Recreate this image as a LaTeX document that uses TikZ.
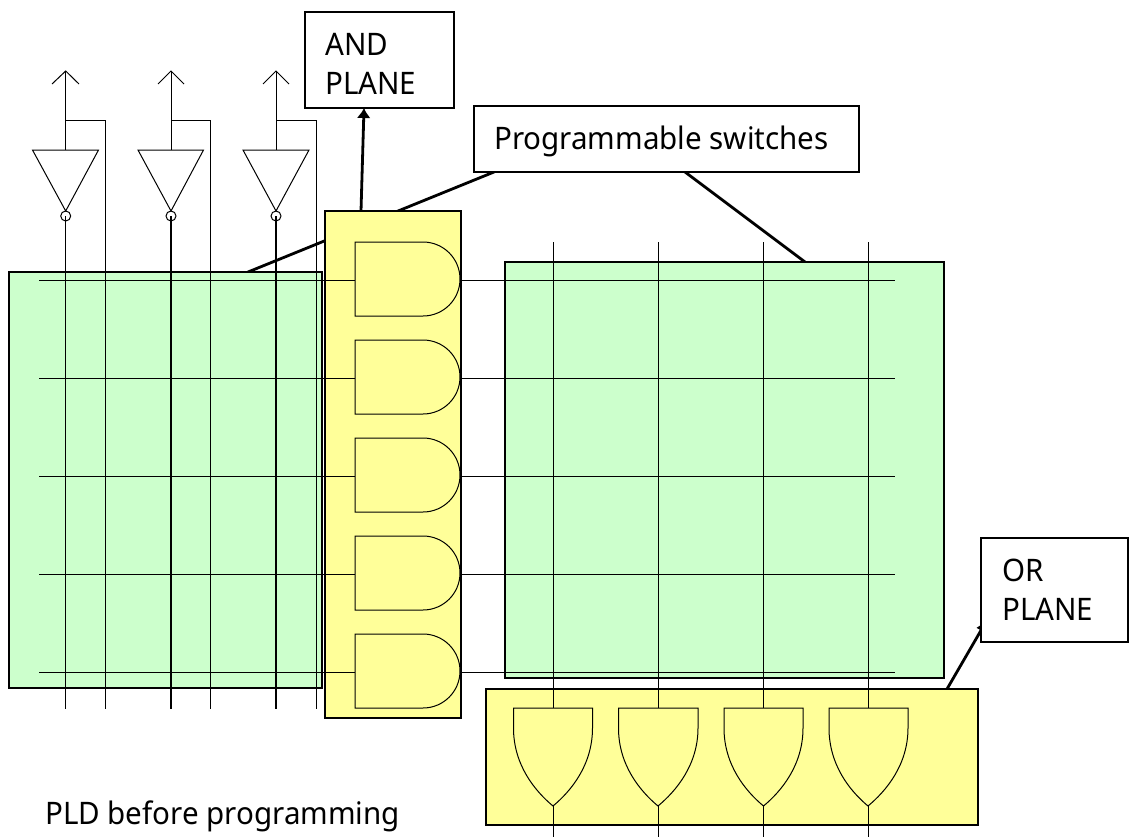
\documentclass[tikz,border=0pt]{standalone}
\usepackage{fontspec}
\usetikzlibrary{arrows.meta}
\setmainfont[FakeStretch=0.953]{Noto Sans}
\tikzset{
  wire/.style={draw=black,line width=1pt},
  panel/.style={draw=black,line width=2.2pt,fill=#1},
  gate/.style={draw=black,line width=1pt,fill=#1},
  callout/.style={draw=black,line width=2.8pt},
  label/.style={anchor=base west,inner sep=0pt,align=left,font=\fontsize{31}{39}\selectfont}
}
\definecolor{planegreen}{HTML}{CCFFCC}
\definecolor{planeyellow}{HTML}{FFFF99}
\begin{document}
\begin{tikzpicture}[x=1pt,y=-1pt]
  \useasboundingbox (0,0) rectangle (1129,838);
  % callout lines
  \draw
    (248,272) coordinate (swa)
    (494,172) coordinate (swb)
    (685,172) coordinate (swc)
    (805,262) coordinate (swd)
    (947,689) coordinate (ora)
    (987,620) coordinate (orb);
  \draw[callout] (swa) to (swb);
  \draw[callout] (swc) to (swd);
  \draw[callout,-{Latex[length=12pt,width=11pt]}] (ora) to (orb);
  % planes
  \node[panel=planegreen,rectangle,minimum width=313pt,minimum height=416pt,inner sep=0pt] (andgrid) at (165.5,480) {};
  \node[panel=planegreen,rectangle,minimum width=439pt,minimum height=416pt,inner sep=0pt] (orgrid) at (724.5,470) {};
  \node[panel=planeyellow,rectangle,minimum width=136pt,minimum height=507pt,inner sep=0pt] (andpanel) at (393,464.5) {};
  \node[panel=planeyellow,rectangle,minimum width=492pt,minimum height=136pt,inner sep=0pt] (orpanel) at (732,757) {};
  % label boxes
  \node[panel=white,rectangle,minimum width=149pt,minimum height=96pt,inner sep=0pt] (andbox) at (379.5,60) {};
  \node[panel=white,rectangle,minimum width=385pt,minimum height=66pt,inner sep=0pt] (swbox) at (666.5,139) {};
  \node[panel=white,rectangle,minimum width=147pt,minimum height=104pt,inner sep=0pt] (orbox) at (1054.5,590) {};
  \node[label] (andtext) at (325,94) {AND\\PLANE};
  \node[label] (swtext) at (494,149) {Programmable switches};
  \node[label] (ortext) at (1002,620) {OR\\PLANE};
  \node[label] (title) at (45,824) {PLD before programming};
  \draw
    (361,211) coordinate (anda)
    (364,108) coordinate (andb);
  \draw[callout,-{Latex[length=10pt,width=14pt]}] (anda) to (andb);
  % inverter wires
  \draw
    (65.7,71) coordinate (a0)   (65.7,150) coordinate (b0)   (65.7,120) coordinate (c0)
    (105,120) coordinate (d0)   (105,709) coordinate (e0)    (65.7,216) coordinate (f0)
    (65.7,709) coordinate (g0)
    (171,71) coordinate (a1)    (171,150) coordinate (b1)    (171,120) coordinate (c1)
    (210,120) coordinate (d1)   (210,709) coordinate (e1)    (171,216) coordinate (f1)
    (171,709) coordinate (g1)
    (276,71) coordinate (a2)    (276,150) coordinate (b2)    (276,120) coordinate (c2)
    (316,120) coordinate (d2)   (316,709) coordinate (e2)    (276,216) coordinate (f2)
    (276,709) coordinate (g2);
  \begin{scope}[wire]
    \draw (b0) to (a0);
    \draw (52,84) -- (a0) -- (79,84);
    \draw (c0) -- (d0) -- (e0);
    \draw (f0) to (g0);
    \draw (b1) to (a1);
    \draw (158,84) -- (a1) -- (184,84);
    \draw (c1) -- (d1) -- (e1);
    \draw[line width=1.8pt] (f1) to (g1);
    \draw (b2) to (a2);
    \draw (263,84) -- (a2) -- (289,84);
    \draw (c2) -- (d2) -- (e2);
    \draw[line width=1.8pt] (f2) to (g2);
  \end{scope}
  % inverters
  \draw[gate=white] (32.5,150) -- (98.5,150) -- (65.7,211) -- cycle;
  \draw[wire] (65.7,216) circle (5);
  \draw[gate=white] (138,150) -- (203.5,150) -- (171,211) -- cycle;
  \draw[wire] (171,216) circle (5);
  \draw[gate=white] (243,150) -- (309,150) -- (276,211) -- cycle;
  \draw[wire] (276,216) circle (5);
  % wires across the grids
  \draw
    (39,280) coordinate (h0) (355,280) coordinate (i0) (461,280) coordinate (j0) (895,280) coordinate (k0)
    (39,378) coordinate (h1) (355,378) coordinate (i1) (461,378) coordinate (j1) (895,378) coordinate (k1)
    (39,476) coordinate (h2) (355,476) coordinate (i2) (461,476) coordinate (j2) (895,476) coordinate (k2)
    (39,574) coordinate (h3) (355,574) coordinate (i3) (461,574) coordinate (j3) (895,574) coordinate (k3)
    (39,672) coordinate (h4) (355,672) coordinate (i4) (461,672) coordinate (j4) (895,672) coordinate (k4)
    (553,242) coordinate (m0) (553,708) coordinate (n0) (553,806) coordinate (o0) (553,837) coordinate (p0)
    (658,242) coordinate (m1) (658,708) coordinate (n1) (658,806) coordinate (o1) (658,837) coordinate (p1)
    (763.5,242) coordinate (m2) (763.5,708) coordinate (n2) (763.5,806) coordinate (o2) (763.5,837) coordinate (p2)
    (868,242) coordinate (m3) (868,708) coordinate (n3) (868,806) coordinate (o3) (868,837) coordinate (p3);
  \begin{scope}[wire]
    \draw (h0) to (i0);
    \draw (j0) to (k0);
    \draw (h1) to (i1);
    \draw (j1) to (k1);
    \draw (h2) to (i2);
    \draw (j2) to (k2);
    \draw (h3) to (i3);
    \draw (j3) to (k3);
    \draw (h4) to (i4);
    \draw (j4) to (k4);
    \draw (m0) to (n0);
    \draw (o0) to (p0);
    \draw (m1) to (n1);
    \draw (o1) to (p1);
    \draw (m2) to (n2);
    \draw (o2) to (p2);
    \draw (m3) to (n3);
    \draw (o3) to (p3);
  \end{scope}
  % and gates
  \draw[gate=planeyellow] (355,242) -- (423,242) arc (-90:90:37) -- (355,316) -- cycle;
  \draw[gate=planeyellow] (355,340) -- (423,340) arc (-90:90:37) -- (355,414) -- cycle;
  \draw[gate=planeyellow] (355,438) -- (423,438) arc (-90:90:37) -- (355,512) -- cycle;
  \draw[gate=planeyellow] (355,536) -- (423,536) arc (-90:90:37) -- (355,610) -- cycle;
  \draw[gate=planeyellow] (355,634) -- (423,634) arc (-90:90:37) -- (355,708) -- cycle;
  % or gates
  \draw[gate=planeyellow] (513.5,708) -- (592.5,708) -- (592.5,728) .. controls (592.5,765) and (571,791) .. (553,806) .. controls (535,791) and (513.5,765) .. (513.5,728) -- cycle;
  \draw[gate=planeyellow] (618.5,708) -- (698,708) -- (698,728) .. controls (698,765) and (676,791) .. (658,806) .. controls (640,791) and (618.5,765) .. (618.5,728) -- cycle;
  \draw[gate=planeyellow] (724,708) -- (803,708) -- (803,728) .. controls (803,765) and (781.5,791) .. (763.5,806) .. controls (745.5,791) and (724,765) .. (724,728) -- cycle;
  \draw[gate=planeyellow] (829,708) -- (908,708) -- (908,728) .. controls (908,765) and (886,791) .. (868,806) .. controls (850,791) and (829,765) .. (829,728) -- cycle;
\end{tikzpicture}
\end{document}
